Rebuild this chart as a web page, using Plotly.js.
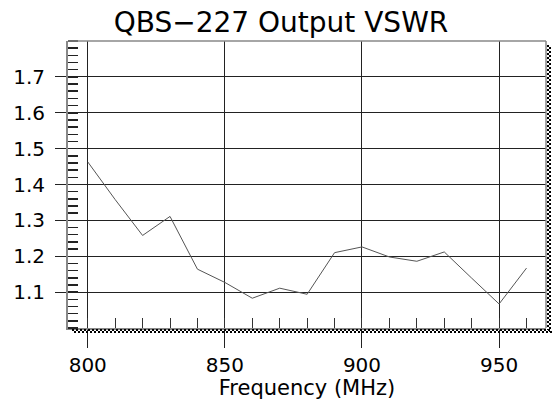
<!DOCTYPE html>
<html>
<head>
<meta charset="utf-8">
<script src="https://cdn.plot.ly/plotly-3.0.1.min.js"></script>
<style>html,body{margin:0;padding:0;background:#fff;}#chart{width:554px;height:407px;}</style>
</head>
<body>
<div id="chart"></div>
<script>
const frequencyMHz = [800, 810, 820, 830, 840, 850, 860, 870, 880, 890, 900, 910, 920, 930, 940, 950, 960];
const vswr = [1.463, 1.358, 1.258, 1.311, 1.164, 1.127, 1.083, 1.111, 1.094, 1.210, 1.226, 1.198, 1.186, 1.212, 1.139, 1.067, 1.167];
const xTickVals = [800, 850, 900, 950];
const xTickText = ['800', '850', '900', '950'];
const yTickVals = [1.1, 1.2, 1.3, 1.4, 1.5, 1.6, 1.7];
const yTickText = ['1.1', '1.2', '1.3', '1.4', '1.5', '1.6', '1.7'];

const font = 'DejaVu Sans, Liberation Sans, Arial, sans-serif';
const pxX = 1 / 478, pxY = 1 / 287;

const trace = {
  x: frequencyMHz, y: vswr, type: 'scatter', mode: 'lines',
  line: {color: '#555', width: 1}, hoverinfo: 'skip'
};

const hatch = (x0, y0, x1, y1) => ({
  type: 'line', xref: 'paper', yref: 'paper', x0, y0, x1, y1,
  line: {color: '#000', width: 2, dash: '2px,2px'}
});
const border = (x0, y0, x1, y1) => ({
  type: 'line', xref: 'paper', yref: 'paper', x0, y0, x1, y1,
  line: {color: '#888', width: 1.5}
});

const layout = {
  width: 554, height: 407,
  margin: {l: 68, r: 8, t: 41, b: 79},
  paper_bgcolor: '#fff', plot_bgcolor: '#fff',
  showlegend: false,
  font: {family: font, color: '#000'},
  title: {text: 'QBS\u2212227 Output VSWR', font: {family: font, size: 28, color: '#000'},
          x: 281 / 554, xanchor: 'center', xref: 'container', y: 1 - 32 / 407, yanchor: 'bottom', yref: 'container'},
  xaxis: {
    range: [792.8, 967.1], tickmode: 'array', tickvals: xTickVals, ticktext: xTickText,
    ticks: 'outside', ticklen: 18, tickwidth: 1, tickcolor: '#222',
    showgrid: true, gridcolor: '#222', gridwidth: 1, zeroline: false,
    showline: true, linecolor: '#888', linewidth: 1.5, mirror: false,
    tickfont: {family: font, size: 20, color: '#000'}, ticklabelstandoff: 0,
    minor: {tickmode: 'linear', tick0: 800, dtick: 10, ticks: 'inside', ticklen: 10, tickwidth: 1, tickcolor: '#333', showgrid: false},
    title: {text: 'Frequency (MHz)', font: {family: font, size: 21, color: '#000'}, standoff: 0}
  },
  yaxis: {
    range: [1.0, 1.8], tickmode: 'array', tickvals: yTickVals, ticktext: yTickText,
    ticks: 'outside', ticklen: 11, tickwidth: 1, tickcolor: '#222',
    showgrid: true, gridcolor: '#222', gridwidth: 1, zeroline: false,
    showline: true, linecolor: '#888', linewidth: 2, mirror: false,
    tickfont: {family: font, size: 20, color: '#000'}, ticklabelstandoff: 6,
    minor: {tickmode: 'linear', tick0: 1.0, dtick: 0.02, ticks: 'inside', ticklen: 10, tickwidth: 1.5, tickcolor: '#222', showgrid: false}
  },
  shapes: [
    border(0, 1, 1, 1),
    border(1, 0, 1, 1),
    hatch(4 * pxX, -2 * pxY, 1 + 6 * pxX, -2 * pxY),
    hatch(6 * pxX, -4 * pxY, 1 + 6 * pxX, -4 * pxY),
    hatch(1 + 2 * pxX, 1 - 4 * pxY, 1 + 2 * pxX, -2 * pxY),
    hatch(1 + 4 * pxX, 1 - 6 * pxY, 1 + 4 * pxX, -4 * pxY)
  ]
};

Plotly.newPlot('chart', [trace], layout, {displayModeBar: false, staticPlot: true});
</script>
</body>
</html>
